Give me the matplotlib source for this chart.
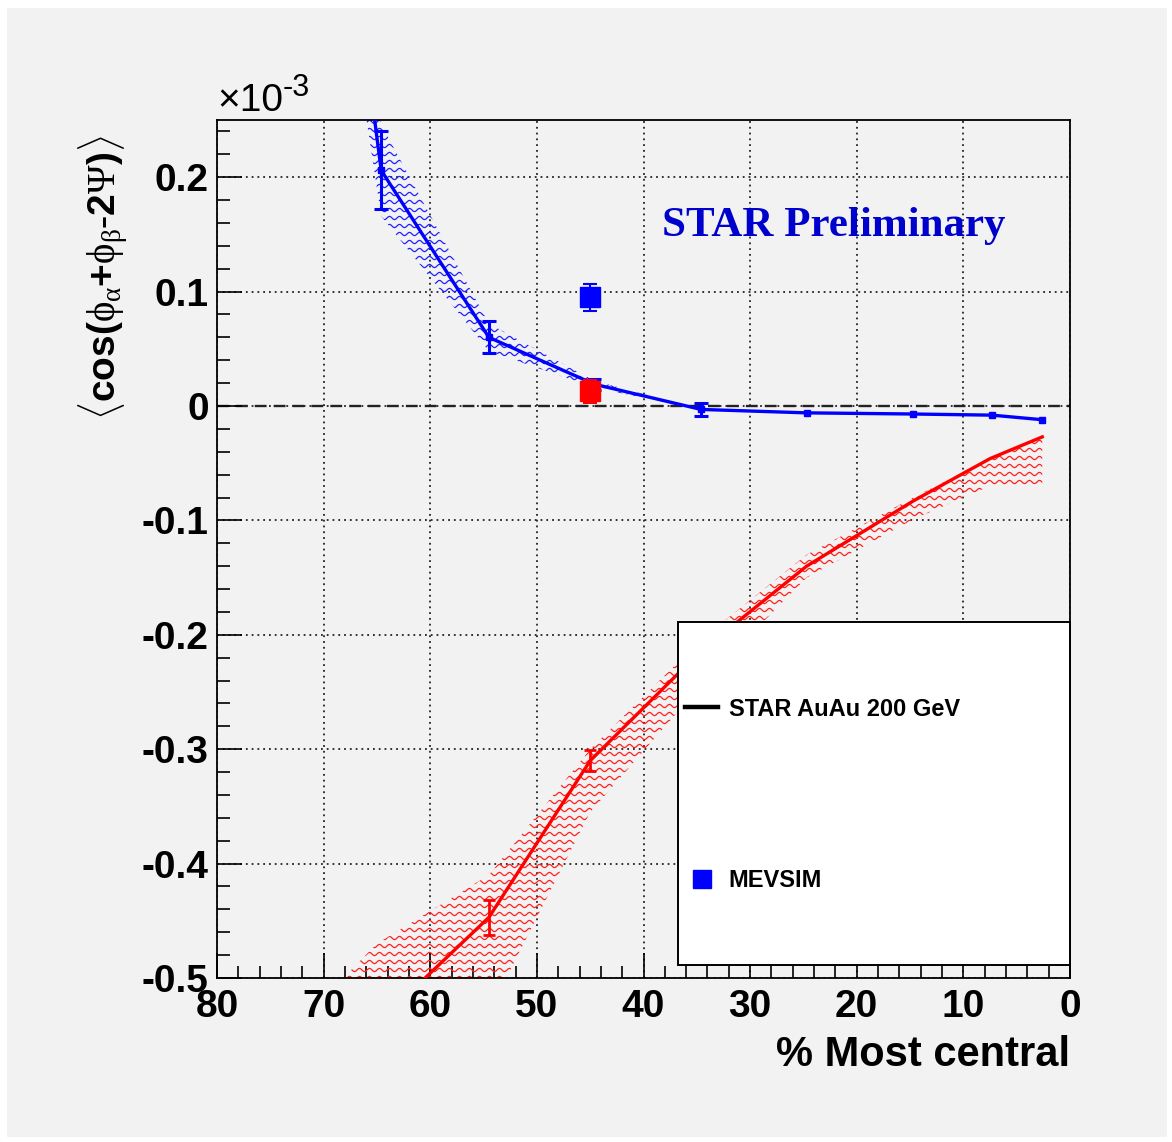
import numpy as np
import matplotlib
matplotlib.use("Agg")
import matplotlib.pyplot as plt
from matplotlib.collections import LineCollection
from matplotlib.patches import Rectangle
from matplotlib.lines import Line2D
from matplotlib.ticker import MultipleLocator, FixedLocator, FixedFormatter

plt.rcParams['font.family'] = ['Liberation Sans', 'DejaVu Sans']
plt.rcParams['mathtext.fontset'] = 'custom'
plt.rcParams['mathtext.rm'] = 'Liberation Serif'
plt.rcParams['mathtext.bf'] = 'Liberation Sans:bold'
plt.rcParams['mathtext.it'] = 'Liberation Serif'
plt.rcParams['mathtext.sf'] = 'Liberation Sans'
plt.rcParams['axes.unicode_minus'] = False

# ---------------- data (units of 1e-3) ----------------
star_cent = [2.6, 7.5, 14.7, 24.7, 34.7, 45.0, 54.5, 65.0, 75.0]
star_val = [-0.027, -0.046, -0.083, -0.140, -0.215, -0.310, -0.447, -0.540, -0.640]
star_err = [0.0, 0.0, 0.0, 0.0, 0.0, 0.009, 0.015, 0.030, 0.040]
star_sys_lo = [-0.068, -0.070, -0.099, -0.150, -0.245, -0.355, -0.530, -0.620, -0.720]
star_sys_hi = [-0.027, -0.046, -0.080, -0.130, -0.205, -0.300, -0.410, -0.470, -0.565]

mev_cent = [2.6, 7.3, 14.7, 24.7, 34.6, 44.6, 54.5, 64.6, 75.0]
mev_val = [-0.012, -0.008, -0.007, -0.006, -0.003, 0.019, 0.060, 0.206, 0.950]
mev_err = [0.0, 0.0, 0.0, 0.0, 0.006, 0.005, 0.014, 0.034, 0.100]
mev_sys = [0.0, 0.0, 0.0, 0.0, 0.0, 0.003, 0.012, 0.040, 0.150]

blue_pt_cent = [45.0]
blue_pt_val = [0.095]
blue_pt_err = [0.012]
red_pt_cent = [45.0]
red_pt_val = [0.013]
red_pt_err = [0.010]

x_ticks = [80, 70, 60, 50, 40, 30, 20, 10, 0]
y_ticks = [-0.5, -0.4, -0.3, -0.2, -0.1, 0.0, 0.1, 0.2]
y_ticklabels = ['-0.5', '-0.4', '-0.3', '-0.2', '-0.1', '0', '0.1', '0.2']

# ---------------- figure ----------------
W, H = 1172, 1142
fig = plt.figure(figsize=(W / 100, H / 100), dpi=100, facecolor='white')
fig.patches.append(Rectangle((7 / W, 5 / H), (W - 12) / W, (H - 13) / H,
                             transform=fig.transFigure, facecolor='#f2f2f2',
                             edgecolor='none', zorder=-10))

L, R, T, B = 217, 1070, 120, 978
ax = fig.add_axes([L / W, 1 - B / H, (R - L) / W, (B - T) / H])
ax.set_facecolor('#f2f2f2')
ax.set_xlim(80, 0)
ax.set_ylim(-0.5, 0.25)

for s in ax.spines.values():
    s.set_linewidth(1.3)
    s.set_color('black')

ax.xaxis.set_major_locator(FixedLocator(x_ticks))
ax.xaxis.set_minor_locator(MultipleLocator(2))
ax.yaxis.set_major_locator(FixedLocator(y_ticks))
ax.yaxis.set_major_formatter(FixedFormatter(y_ticklabels))
ax.yaxis.set_minor_locator(MultipleLocator(0.02))
ax.tick_params(axis='both', which='major', direction='in', length=18, width=1.2,
               labelsize=28, top=False, right=False)
ax.tick_params(axis='both', which='minor', direction='in', length=9, width=1.2,
               top=False, right=False)
ax.tick_params(axis='x', which='major', pad=8)
ax.tick_params(axis='y', which='major', pad=6)
for lab in ax.get_xticklabels() + ax.get_yticklabels():
    lab.set_fontweight('bold')

ax.grid(True, which='major', linestyle=(0, (1, 2.2)), color='#222222', linewidth=1.3)
ax.axhline(0, color='#222222', linestyle=(0, (5, 3)), linewidth=1.7, zorder=1)

# ---------------- wavy hatch helper ----------------
axw, axh = R - L, B - T
def wavy_hatch(poly, color, spacing=8.0, period=10.0, amp=1.6):
    xs_px = np.arange(0, axw + 1, 0.7)
    segs = []
    for y0 in np.arange(0, axh + spacing, spacing):
        yy = (y0 + amp * np.sin(2 * np.pi * xs_px / period)) / axh
        segs.append(np.column_stack([xs_px / axw, yy]))
    lc = LineCollection(segs, colors=color, linewidths=0.9, transform=ax.transAxes,
                        zorder=2)
    ax.add_collection(lc)
    lc.set_clip_path(poly.get_paths()[0], ax.transData)

# STAR band (red)
sc = np.array(star_cent)
poly_r = ax.fill_between(sc, star_sys_lo, star_sys_hi, facecolor='none',
                         edgecolor='none')
wavy_hatch(poly_r, '#ff2020')

# MEVSIM band (blue)
mc = np.array(mev_cent)
mv = np.array(mev_val)
ms = np.array(mev_sys)
poly_b = ax.fill_between(mc, mv - ms, mv + ms, facecolor='none', edgecolor='none')
wavy_hatch(poly_b, '#2020ff')

# lines with error bars
se = np.array(star_err)
ax.plot(star_cent, star_val, color='red', lw=2.4, zorder=4)
ax.errorbar(sc[se > 0], np.array(star_val)[se > 0], yerr=se[se > 0], color='red',
            ls='none', capsize=4, capthick=2, elinewidth=2, zorder=4)
me = np.array(mev_err)
ax.plot(mev_cent, mev_val, color='blue', lw=2.4, marker='s', ms=4.5, zorder=4)
ax.errorbar(mc[me > 0], mv[me > 0], yerr=me[me > 0], color='blue', ls='none',
            capsize=5, capthick=2.2, elinewidth=2.2, zorder=4)

# single points
ax.errorbar(blue_pt_cent, blue_pt_val, yerr=blue_pt_err, color='blue', marker='s',
            ms=14, capsize=5, capthick=1.5, elinewidth=1.5, ls='none', zorder=5)
ax.errorbar(red_pt_cent, red_pt_val, yerr=red_pt_err, color='red', marker='s',
            ms=14, capsize=5, capthick=1.5, elinewidth=1.5, ls='none', zorder=5)

# STAR Preliminary
ax.text(0.5213, 0.877, 'STAR Preliminary', transform=ax.transAxes,
        family=['Liberation Serif', 'DejaVu Serif'], fontweight='bold',
        fontsize=31, color='#0000cc', ha='left', va='center', zorder=6)

# legend box
lx0 = (678 - L) / axw
ly0 = (B - 965) / axh
ax.add_patch(Rectangle((lx0, ly0), 1 - lx0, (965 - 622) / axh, transform=ax.transAxes,
                       facecolor='white', edgecolor='black', lw=1.4, zorder=7,
                       clip_on=False))
handles = [Line2D([], [], color='black', lw=3.2),
           Line2D([], [], color='blue', marker='s', ms=13.5, ls='none')]
leg = ax.legend(handles, ['STAR AuAu 200 GeV', 'MEVSIM'], frameon=False,
                loc='center left', bbox_to_anchor=(lx0, (B - 795) / axh),
                borderaxespad=0, borderpad=0.3, handlelength=1.4, handletextpad=0.45,
                labelspacing=6.3, prop={'weight': 'bold', 'size': 17})
leg.set_zorder(8)

# axis labels
fig.text(R / W, 1 - 1055 / H, '% Most central', ha='right', va='center',
         fontsize=30, fontweight='bold')
fig.text(103 / W, 1 - 278 / H,
         r'$\langle\mathbf{cos(}\phi_{\alpha}\mathbf{+}\phi_{\beta}\mathbf{\text{-}2}\Psi\mathbf{)}\rangle$',
         rotation=90, ha='center', va='center', fontsize=28)
fig.text(L / W, 1 - 101 / H, '\u00d710', ha='left', va='center', fontsize=28)
fig.text((L + 66) / W, 1 - 88 / H, '-3', ha='left', va='center', fontsize=22)

fig.savefig('out.png', dpi=100, facecolor=fig.get_facecolor())
